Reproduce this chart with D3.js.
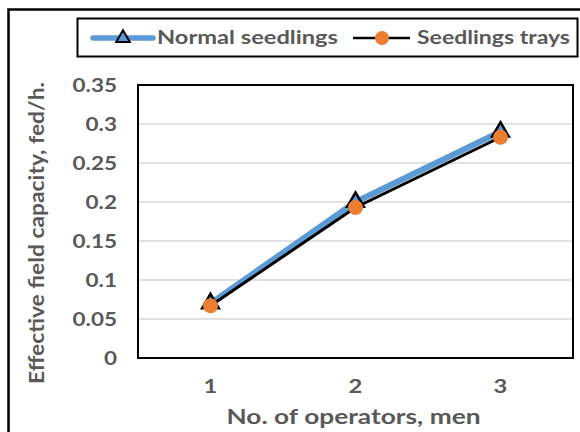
<!DOCTYPE html>
<html>
<head>
<meta charset="utf-8">
<script src="https://cdn.jsdelivr.net/npm/d3@7"></script>
<style>
  body { margin: 0; background: #fff; }
  text { font-family: Lato, "Open Sans", sans-serif; font-weight: bold; fill: #595959; }
</style>
</head>
<body>
<div id="chart"></div>
<script>
(function(d3) {
  'use strict';

  var operators = ['1', '2', '3'];
  var normalSeedlings = [0.07, 0.2, 0.29];
  var seedlingsTrays = [0.067, 0.193, 0.283];
  var yTicks = [0, 0.05, 0.1, 0.15, 0.2, 0.25, 0.3, 0.35];

  var width = 580;
  var height = 432;
  var plot = { left: 138, top: 85, right: 573, bottom: 358 };
  var stretch = 1.25;

  var svg = d3.select('#chart')
    .append('svg')
    .attr('width', width)
    .attr('height', height);

  // outer chart border (runs off the picture at right and bottom)
  svg.append('rect')
    .attr('x', 8.5).attr('y', 9.5)
    .attr('width', 600).attr('height', 460)
    .attr('fill', 'none').attr('stroke', '#000').attr('stroke-width', 2.5);

  var x = d3.scaleBand()
    .domain(operators)
    .range([plot.left, plot.right]);

  var y = d3.scaleLinear()
    .domain([0, 0.35])
    .range([plot.bottom, plot.top]);

  // widen text like the stretched original
  function widen(sel, factor) {
    sel.each(function() {
      var len = this.getComputedTextLength();
      d3.select(this).attr('textLength', len * (factor || stretch))
        .attr('lengthAdjust', 'spacingAndGlyphs');
    });
  }

  // gridlines
  svg.append('g')
    .selectAll('line')
    .data(yTicks.slice(1, -1))
    .enter()
    .append('line')
    .attr('x1', plot.left).attr('x2', plot.right)
    .attr('y1', function(d) { return y(d); })
    .attr('y2', function(d) { return y(d); })
    .attr('stroke', '#d9d9d9').attr('stroke-width', 1.5);

  svg.append('rect')
    .attr('x', plot.left).attr('y', plot.top)
    .attr('width', plot.right - plot.left)
    .attr('height', plot.bottom - plot.top)
    .attr('fill', 'none').attr('stroke', '#000').attr('stroke-width', 2);

  // y axis
  var yAxis = svg.append('g')
    .attr('transform', 'translate(' + (plot.left - 21) + ',0)')
    .call(d3.axisLeft(y).tickValues(yTicks).tickSize(0).tickPadding(0)
      .tickFormat(function(d) { return String(d); }));
  yAxis.select('.domain').remove();
  yAxis.selectAll('text')
    .attr('font-size', 18).attr('dy', '0.36em')
    .attr('font-family', null)
    .call(widen);

  // x axis
  var xAxis = svg.append('g')
    .attr('transform', 'translate(0,' + plot.bottom + ')')
    .call(d3.axisBottom(x).tickSize(0).tickPadding(0));
  xAxis.select('.domain').remove();
  xAxis.selectAll('text')
    .attr('font-size', 19).attr('dy', 0).attr('y', 35)
    .attr('font-family', null)
    .call(widen);

  svg.append('text')
    .attr('x', (plot.left + plot.right) / 2 - 2)
    .attr('y', 424)
    .attr('text-anchor', 'middle')
    .attr('font-size', 20)
    .attr('textLength', 254).attr('lengthAdjust', 'spacingAndGlyphs')
    .text('No. of operators, men');

  svg.append('text')
    .attr('transform', 'translate(44,233) rotate(-90)')
    .attr('text-anchor', 'middle')
    .attr('font-size', 20)
    .attr('textLength', 302).attr('lengthAdjust', 'spacingAndGlyphs')
    .text('Effective field capacity, fed/h.');

  var line = d3.line()
    .x(function(d, i) { return x(operators[i]) + x.bandwidth() / 2; })
    .y(function(d) { return y(d); });

  // normal seedlings: thick blue line with black triangles
  svg.append('path')
    .datum(normalSeedlings)
    .attr('d', line)
    .attr('fill', 'none').attr('stroke', '#5b9bd5').attr('stroke-width', 6)
    .attr('stroke-linejoin', 'round');

  var tri = d3.symbol().type(d3.symbolTriangle).size(120);

  svg.append('g')
    .selectAll('path')
    .data(normalSeedlings)
    .enter()
    .append('path')
    .attr('d', tri)
    .attr('transform', function(d, i) {
      return 'translate(' + (x(operators[i]) + x.bandwidth() / 2) + ',' + y(d) + ')';
    })
    .attr('fill', '#5b9bd5').attr('stroke', '#000').attr('stroke-width', 2.5);

  // seedlings trays: black line with orange circles
  svg.append('path')
    .datum(seedlingsTrays)
    .attr('d', line)
    .attr('fill', 'none').attr('stroke', '#000').attr('stroke-width', 3);

  svg.append('g')
    .selectAll('circle')
    .data(seedlingsTrays)
    .enter()
    .append('circle')
    .attr('cx', function(d, i) { return x(operators[i]) + x.bandwidth() / 2; })
    .attr('cy', function(d) { return y(d); })
    .attr('r', 7.5)
    .attr('fill', '#ed7d31');

  // legend
  var legend = svg.append('g');
  legend.append('rect')
    .attr('x', 77.5).attr('y', 18.5)
    .attr('width', 500).attr('height', 38)
    .attr('fill', '#fff').attr('stroke', '#000').attr('stroke-width', 2);

  legend.append('line')
    .attr('x1', 93).attr('x2', 153).attr('y1', 38).attr('y2', 38)
    .attr('stroke', '#5b9bd5').attr('stroke-width', 5.5).attr('stroke-linecap', 'round');
  legend.append('path')
    .attr('d', d3.symbol().type(d3.symbolTriangle).size(80))
    .attr('transform', 'translate(123,38)')
    .attr('fill', '#5b9bd5').attr('stroke', '#000').attr('stroke-width', 2);
  legend.append('text')
    .attr('x', 157).attr('y', 44)
    .attr('font-size', 19)
    .attr('textLength', 181).attr('lengthAdjust', 'spacingAndGlyphs')
    .text('Normal seedlings');

  legend.append('line')
    .attr('x1', 353).attr('x2', 410).attr('y1', 38).attr('y2', 38)
    .attr('stroke', '#000').attr('stroke-width', 2.5);
  legend.append('circle')
    .attr('cx', 382).attr('cy', 38).attr('r', 7)
    .attr('fill', '#ed7d31');
  legend.append('text')
    .attr('x', 417).attr('y', 44)
    .attr('font-size', 19)
    .attr('textLength', 153).attr('lengthAdjust', 'spacingAndGlyphs')
    .text('Seedlings trays');

})(window.d3);
</script>
</body>
</html>
